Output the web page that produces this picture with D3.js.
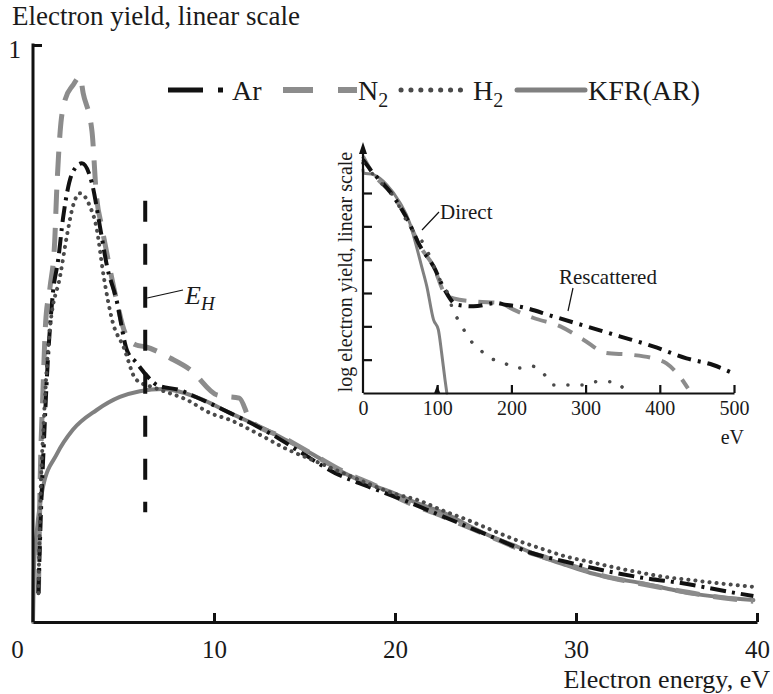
<!DOCTYPE html>
<html>
<head>
<meta charset="utf-8">
<script src="https://cdn.jsdelivr.net/npm/d3@7"></script>
<style>
  body { margin: 0; background: #fff; }
  svg text { font-family: "Liberation Serif", "Times New Roman", Tinos, Times, "DejaVu Serif", serif !important; fill: #1a1a1a; }
</style>
</head>
<body>
<div id="chart"></div>
<script>
// main panel: [energy eV, yield]
const arMain = [[0.3,0.05],[0.45,0.2],[0.6,0.31],[0.77,0.425],[1.1,0.57],[1.4,0.63],[1.66,0.70],[2.2,0.78],[2.7,0.795],[3.26,0.76],[3.7,0.685],[4.1,0.615],[4.6,0.56],[5.2,0.47],[5.7,0.45],[6.2,0.43],[6.9,0.41],[8.1,0.402],[9.0,0.39],[10.9,0.362],[13.1,0.327],[15,0.29],[16.7,0.258],[18.5,0.235],[20.5,0.211],[22.5,0.185],[25.4,0.147],[27.5,0.12],[29.5,0.104],[32.2,0.085],[34,0.075],[35.7,0.068],[38.5,0.052],[39.8,0.045]];
const n2Main = [[0.3,0.05],[0.4,0.25],[0.55,0.4],[0.7,0.52],[0.94,0.58],[1.2,0.66],[1.3,0.74],[1.5,0.85],[1.77,0.905],[2.2,0.93],[2.6,0.945],[2.77,0.917],[3.26,0.85],[3.5,0.74],[3.8,0.685],[4.2,0.62],[4.6,0.56],[5.1,0.5],[5.7,0.48],[6.2,0.477],[7.6,0.457],[8.7,0.437],[10.2,0.393],[11.4,0.388],[12,0.35],[13.8,0.32],[15.5,0.29],[17.2,0.26],[19,0.235],[20.5,0.21],[22.5,0.185],[24,0.165],[25.5,0.145],[27,0.125],[28.5,0.11],[30,0.095],[31.5,0.08],[33,0.07],[35,0.058],[37,0.047],[39.8,0.036]];
const h2Main = [[0.3,0.05],[0.4,0.2],[0.6,0.35],[0.94,0.51],[1.5,0.60],[1.9,0.674],[2.2,0.72],[2.6,0.743],[3.15,0.72],[3.5,0.685],[3.9,0.60],[4.4,0.52],[5.0,0.477],[5.7,0.42],[6.8,0.405],[8.5,0.385],[9.8,0.362],[10.9,0.35],[12.5,0.325],[14,0.3],[15.5,0.28],[17,0.26],[18.5,0.24],[20,0.222],[21.3,0.211],[22.5,0.195],[24,0.177],[25.3,0.16],[26.7,0.142],[28,0.128],[29.5,0.113],[30.8,0.104],[32.2,0.094],[33.5,0.086],[34.9,0.078],[36.3,0.073],[37.6,0.068],[39.8,0.061]];
const kfrMain = [[0,0],[0.05,0.09],[0.2,0.154],[0.55,0.234],[1.3,0.29],[2.2,0.333],[3.5,0.367],[4.8,0.39],[5.9,0.40],[7.2,0.404],[8.1,0.399],[9.4,0.385],[10.9,0.362],[12.7,0.336],[14,0.315],[15.5,0.29],[17.2,0.258],[18.5,0.24],[19.9,0.224],[21.3,0.205],[22.7,0.189],[24,0.168],[25.4,0.147],[26.8,0.13],[28.1,0.113],[29.5,0.098],[30.8,0.085],[32.2,0.075],[33.5,0.068],[35,0.058],[36.3,0.05],[38,0.043],[39.8,0.038]];
const eH = 6.2;
const eHRange = [0.19, 0.73];

// inset: [energy eV, log yield]
const arInset = [[0,7.0],[10,6.7],[41,5.9],[60,5.2],[77,4.4],[95,3.8],[110,3.1],[126,2.65],[149,2.6],[180,2.7],[191,2.65],[209,2.6],[256,2.3],[301,2.0],[346,1.7],[391,1.4],[436,1.04],[472,0.84],[499,0.59]];
const n2Inset = [[0,7.1],[10,6.7],[41,5.9],[60,5.2],[77,4.4],[95,3.8],[110,3.0],[122,2.84],[153,2.74],[184,2.7],[203,2.5],[230,2.25],[266,2.0],[297,1.6],[328,1.2],[360,1.15],[391,1.04],[409,0.89],[427,0.49],[438,0.14]];
const h2Inset = [[0,6.9],[20,6.4],[41,5.9],[63,5.0],[81,4.5],[90,4.1],[99,3.6],[117,2.8],[119.5,2.6],[131,2.1],[144,1.6],[158,1.3],[167,1.09],[187,0.94],[207,0.74],[227,0.81],[243,0.59],[256,0.24],[284,0.24],[297,0.24],[315,0.34],[337,0.34],[353,0.09]];
const kfrInset = [[0,6.7],[0.5,6.6],[14,6.55],[32,6.25],[50,5.7],[63,5.1],[72,4.4],[79,3.8],[86,3.2],[95,2.2],[101.5,1.9],[106,1.2],[110.5,0.4],[113,0]];

const mainXTicks = [0, 10, 20, 30, 40];
const mainYTicks = [1];
const insetXTicks = [0, 100, 200, 300, 400, 500];
const insetYTicks = [1, 2, 3, 4, 5, 6];
const legendNames = ['Ar', 'N2', 'H2', 'KFR(AR)'];

const W = 773, H = 694;
const FONT = '"Liberation Serif", "Times New Roman", Tinos, Times, "DejaVu Serif", serif';
const svg = d3.select('#chart').append('svg')
  .attr('width', W)
  .attr('height', H)
  .attr('font-family', FONT);

const styles = {
  'Ar':      { color: '#111', width: 4, dash: '16,6,3,6', cap: 'butt' },
  'N2':      { color: '#8c8c8c', width: 5, dash: '24,14', cap: 'butt' },
  'H2':      { color: '#4a4a4a', width: 4, dash: '0.1,7', cap: 'round' },
  'KFR(AR)': { color: '#808080', width: 4, dash: null, cap: 'round' }
};

///////////////////////////////MAIN PANEL
const x = d3.scaleLinear().domain([0, 40]).range([33, 757]);
const y = d3.scaleLinear().domain([0, 1]).range([622, 45]);

const line = d3.line().x(d => x(d[0])).y(d => y(d[1])).curve(d3.curveMonotoneX);

function drawSeries(g, data, name, gen, over) {
  const s = Object.assign({}, styles[name], over || {});
  g.append('path')
    .attr('d', gen(data))
    .attr('fill', 'none')
    .attr('stroke', s.color)
    .attr('stroke-width', s.width)
    .attr('stroke-dasharray', s.dash)
    .attr('stroke-linecap', s.cap)
    .attr('stroke-linejoin', 'round');
}

const main = svg.append('g');
drawSeries(main, kfrMain, 'KFR(AR)', line);
drawSeries(main, n2Main, 'N2', line);
drawSeries(main, arMain, 'Ar', line);
drawSeries(main, h2Main, 'H2', line);

// E_H marker
main.append('line')
  .attr('x1', x(eH)).attr('x2', x(eH))
  .attr('y1', y(eHRange[1])).attr('y2', y(eHRange[0]))
  .attr('stroke', '#111').attr('stroke-width', 4)
  .attr('stroke-dasharray', '21,22');
main.append('line')
  .attr('x1', x(eH) + 2).attr('y1', 298)
  .attr('x2', 183).attr('y2', 290)
  .attr('stroke', '#111').attr('stroke-width', 1.2);
const eHText = main.append('text')
  .attr('x', 185).attr('y', 304)
  .style('font-size', '26px').style('font-style', 'italic');
eHText.append('tspan').text('E');
eHText.append('tspan').attr('dy', 6).style('font-size', '19px').text('H');

// axes
const xAxis = main.append('g')
  .attr('transform', `translate(0,${y(0)})`)
  .call(d3.axisBottom(x).tickValues(mainXTicks).tickSize(-9).tickSizeOuter(0).tickPadding(18).tickFormat(d3.format('d')));
const yAxis = main.append('g')
  .attr('transform', `translate(${x(0)},0)`)
  .call(d3.axisLeft(y).tickValues(mainYTicks).tickSize(-9).tickSizeOuter(0).tickPadding(12).tickFormat(d3.format('d')));

[xAxis, yAxis].forEach(a => {
  a.attr('font-family', FONT);
  a.select('.domain').attr('stroke', '#111').attr('stroke-width', 3);
  a.selectAll('.tick line').attr('stroke', '#111').attr('stroke-width', 3);
  a.selectAll('.tick text').style('font-size', '25px').attr('fill', '#1a1a1a');
});
xAxis.selectAll('.tick').filter(d => d === 0).select('line').remove();
xAxis.selectAll('.tick').filter(d => d === 0).select('text').attr('x', -16);
yAxis.select('.domain').attr('d', `M0,${y(0)}V${y(1) - 1.5}`);
yAxis.selectAll('.tick text').attr('dy', '0.5em');

main.append('text')
  .attr('x', 12).attr('y', 25)
  .style('font-size', '27px')
  .text('Electron yield, linear scale');
main.append('text')
  .attr('x', 770).attr('y', 688)
  .attr('text-anchor', 'end')
  .style('font-size', '26px')
  .text('Electron energy, eV');

///////////////////////////////LEGEND
const legendItems = [
  { name: 'Ar', x0: 168, x1: 225, textX: 232, dash: '35,15,5,100' },
  { name: 'N2', x0: 283, x1: 357, textX: 358, dash: '30,25,19,100' },
  { name: 'H2', x0: 401, x1: 470, textX: 473, dash: '0.1,9.8' },
  { name: 'KFR(AR)', x0: 517, x1: 585, textX: 588, dash: null }
];
const legendY = 90;
const legend = svg.append('g').attr('class', 'legend');
legendItems.forEach(it => {
  const s = styles[it.name];
  legend.append('line')
    .attr('x1', it.x0).attr('x2', it.x1)
    .attr('y1', legendY).attr('y2', legendY)
    .attr('stroke', s.color)
    .attr('stroke-width', it.name === 'N2' ? 6 : 5)
    .attr('stroke-dasharray', it.dash)
    .attr('stroke-linecap', s.cap);
  const t = legend.append('text')
    .attr('x', it.textX).attr('y', legendY + 10)
    .style('font-size', '28px');
  const m = it.name.match(/^([NH])2$/);
  if (m) {
    t.append('tspan').text(m[1]);
    t.append('tspan').attr('dy', 7).style('font-size', '20px').text('2');
  } else {
    t.text(it.name);
  }
});

///////////////////////////////INSET
const xi = d3.scaleLinear().domain([0, 500]).range([363, 734]);
const yi = d3.scaleLinear().domain([0, 7.5]).range([393, 143]);
const lineI = d3.line().x(d => xi(d[0])).y(d => yi(d[1])).curve(d3.curveMonotoneX);

const inset = svg.append('g');
drawSeries(inset, kfrInset, 'KFR(AR)', lineI, { width: 3 });
drawSeries(inset, n2Inset, 'N2', lineI, { width: 4, dash: '16,12' });
drawSeries(inset, arInset, 'Ar', lineI, { width: 4, dash: '14,7,3,7' });
drawSeries(inset, h2Inset, 'H2', lineI, { width: 3.5, dash: '0.1,14' });

const xAxisI = inset.append('g')
  .attr('transform', `translate(0,${yi(0)})`)
  .call(d3.axisBottom(xi).tickValues(insetXTicks).tickSize(-8).tickSizeOuter(0).tickPadding(8).tickFormat(d3.format('d')));
const yAxisI = inset.append('g')
  .attr('transform', `translate(${xi(0)},0)`)
  .call(d3.axisLeft(yi).tickValues(insetYTicks).tickSize(-9).tickSizeOuter(0).tickFormat(''));
[xAxisI, yAxisI].forEach(a => {
  a.attr('font-family', FONT);
  a.select('.domain').attr('stroke', '#111').attr('stroke-width', 2.2);
  a.selectAll('.tick line').attr('stroke', '#111').attr('stroke-width', 2.2);
  a.selectAll('.tick text').style('font-size', '20px').attr('fill', '#1a1a1a');
});
xAxisI.selectAll('.tick').filter(d => d === 0).select('line').remove();
yAxisI.select('.domain').attr('d', `M0,${yi(0)}V${yi(7.5) + 6}`);
// arrow heads
inset.append('path')
  .attr('d', `M${xi(0)},${yi(7.5) - 1}l-4,12h8z`)
  .attr('fill', '#111');
inset.append('path')
  .attr('d', `M${xi(100)},${yi(0) - 8}l-3,8h6z`)
  .attr('fill', '#111');

inset.append('text')
  .attr('transform', `translate(352,${(yi(0) + yi(7.5)) / 2 + 4}) rotate(-90)`)
  .attr('text-anchor', 'middle')
  .style('font-size', '20px')
  .text('log electron yield, linear scale');
inset.append('text')
  .attr('x', 744).attr('y', 444)
  .attr('text-anchor', 'end')
  .style('font-size', '20px')
  .text('eV');

// annotations
inset.append('text').attr('x', 440).attr('y', 219).style('font-size', '21px').text('Direct');
inset.append('line').attr('x1', 439).attr('y1', 212).attr('x2', 422).attr('y2', 230)
  .attr('stroke', '#111').attr('stroke-width', 1.2);
inset.append('text').attr('x', 559).attr('y', 284).style('font-size', '21px').text('Rescattered');
inset.append('line').attr('x1', 573).attr('y1', 288).attr('x2', 568).attr('y2', 311)
  .attr('stroke', '#111').attr('stroke-width', 1.2);
</script>
</body>
</html>
